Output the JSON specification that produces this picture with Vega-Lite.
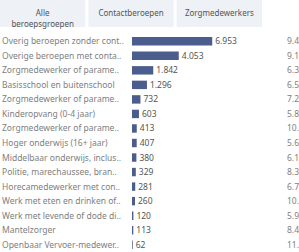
{
  "$schema": "https://vega.github.io/schema/vega-lite/v6.json",
  "padding": 0,
  "background": "white",
  "config": {
    "view": {"stroke": null},
    "font": "Noto Sans",
    "locale": {"number": {"decimal": ",", "thousands": ".", "grouping": [3], "currency": ["€", ""]}},
    "concat": {"spacing": 0}
  },
  "datasets": {
    "tabs": [
      {"tab": "Alle\nberoepsgroepen"},
      {"tab": "Contactberoepen"},
      {"tab": "Zorgmedewerkers"}
    ],
    "rows": [
      {"id": 1, "beroep": "Overig beroepen zonder cont..", "aantal": 6953, "rechts": 9400},
      {"id": 2, "beroep": "Overige beroepen met conta..", "aantal": 4053, "rechts": 9100},
      {"id": 3, "beroep": "Zorgmedewerker of parame..", "aantal": 1842, "rechts": 6300},
      {"id": 4, "beroep": "Basisschool en buitenschool", "aantal": 1296, "rechts": 6500},
      {"id": 5, "beroep": "Zorgmedewerker of parame..", "aantal": 732, "rechts": 7200},
      {"id": 6, "beroep": "Kinderopvang (0-4 jaar)", "aantal": 603, "rechts": 5800},
      {"id": 7, "beroep": "Zorgmedewerker of parame..", "aantal": 413, "rechts": 10300},
      {"id": 8, "beroep": "Hoger onderwijs (16+ jaar)", "aantal": 407, "rechts": 5600},
      {"id": 9, "beroep": "Middelbaar onderwijs, inclus..", "aantal": 380, "rechts": 6100},
      {"id": 10, "beroep": "Politie, marechaussee, bran..", "aantal": 329, "rechts": 8300},
      {"id": 11, "beroep": "Horecamedewerker met con..", "aantal": 281, "rechts": 6700},
      {"id": 12, "beroep": "Werk met eten en drinken of..", "aantal": 260, "rechts": 10200},
      {"id": 13, "beroep": "Werk met levende of dode di..", "aantal": 120, "rechts": 5900},
      {"id": 14, "beroep": "Mantelzorger", "aantal": 113, "rechts": 8400},
      {"id": 15, "beroep": "Openbaar Vervoer-medewer..", "aantal": 62, "rechts": 11200}
    ]
  },
  "vconcat": [
    {
      "width": 262,
      "height": 27,
      "data": {"name": "tabs"},
      "encoding": {
        "x": {"field": "tab", "type": "nominal", "sort": null, "axis": null,
              "scale": {"paddingInner": 0.035, "paddingOuter": 0}}
      },
      "layer": [
        {"mark": {"type": "rect", "fill": "#eef1f6"}},
        {"mark": {"type": "text", "fontSize": 8, "color": "#555", "lineBreak": "\n", "lineHeight": 11}, "encoding": {"text": {"field": "tab"}}}
      ]
    },
    {
      "spacing": 0,
      "hconcat": [
        {
          "width": 132,
          "height": 218,
          "data": {"name": "rows"},
          "mark": {"type": "text", "align": "left", "dx": 2, "fontSize": 8.5, "color": "#808080"},
          "encoding": {
            "y": {"field": "id", "type": "ordinal", "axis": null, "scale": {"paddingInner": 0.42, "paddingOuter": 0.21}},
            "x": {"datum": 0, "type": "quantitative", "axis": null, "scale": {"domain": [0, 1]}},
            "text": {"field": "beroep"}
          }
        },
        {
          "width": 150,
          "height": 218,
          "data": {"name": "rows"},
          "encoding": {
            "y": {"field": "id", "type": "ordinal", "axis": null, "scale": {"paddingInner": 0.42, "paddingOuter": 0.21}},
            "x": {"field": "aantal", "type": "quantitative", "axis": null, "scale": {"domain": [0, 13000], "nice": false}}
          },
          "layer": [
            {"mark": {"type": "bar", "color": "#4a5d8c"}},
            {"mark": {"type": "text", "align": "left", "dx": 3, "fontSize": 8.5, "color": "#555"},
             "encoding": {"text": {"field": "aantal", "type": "quantitative", "format": ",.0f"}}}
          ]
        },
        {
          "width": 17,
          "height": 218,
          "data": {"name": "rows"},
          "mark": {"type": "text", "align": "left", "dx": 5, "fontSize": 8.5, "color": "#808080"},
          "encoding": {
            "y": {"field": "id", "type": "ordinal", "axis": null, "scale": {"paddingInner": 0.42, "paddingOuter": 0.21}},
            "x": {"datum": 0, "type": "quantitative", "axis": null, "scale": {"domain": [0, 1]}},
            "text": {"field": "rechts", "type": "quantitative", "format": ",.0f"}
          }
        }
      ]
    }
  ],
  "spacing": 5
}
